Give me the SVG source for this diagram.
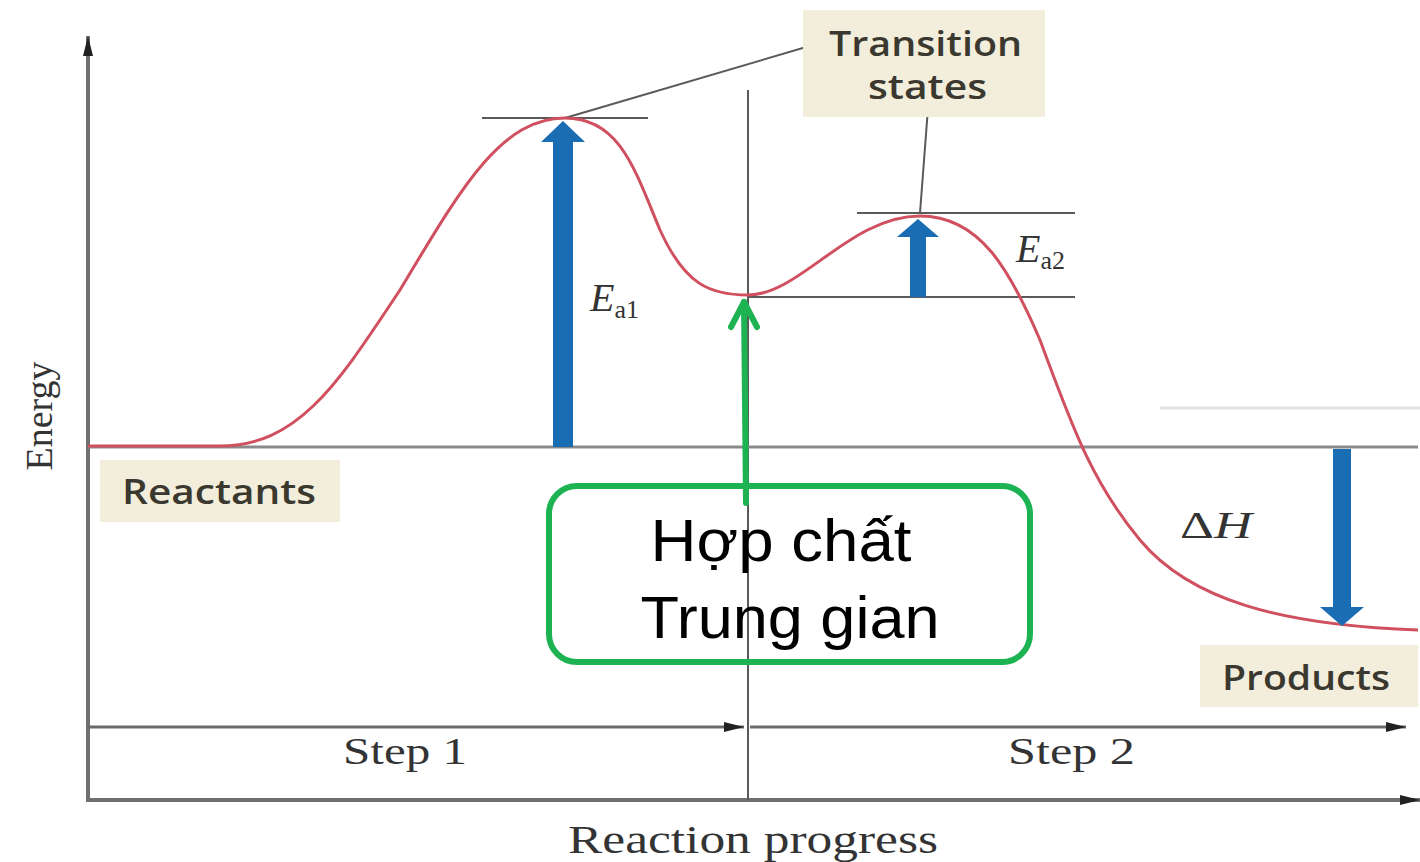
<svg xmlns="http://www.w3.org/2000/svg" width="1420" height="862" viewBox="0 0 1420 862">
  <style>
    .axis { stroke: #707070; stroke-width: 4; fill: none; }
    .thin { stroke: #5a5a5a; stroke-width: 2; fill: none; }
    .step { stroke: #6a6a6a; stroke-width: 3; fill: none; }
    .level { stroke: #8a8a8a; stroke-width: 3; fill: none; }
    .curve { stroke: #d0505f; stroke-width: 3; fill: none; }
    .tag { fill: #f2eedb; }
    .tagtext { font-family: "Open Sans", "Liberation Sans", sans-serif; font-weight: 600; font-size: 35px; fill: #3a382f; }
    .serif { font-family: "Liberation Serif", serif; fill: #333; }
    .ital { font-family: "Liberation Serif", serif; font-style: italic; fill: #333; }
    .blue { fill: #1a6db3; }
    .green { stroke: #1db353; stroke-width: 6; fill: none; stroke-linecap: round; stroke-linejoin: round; }
    .big { font-family: "Liberation Sans", Arial, sans-serif; font-size: 60px; fill: #000; text-anchor: middle; }
  </style>
  <defs>
    <marker id="head" viewBox="0 0 20 10" refX="20" refY="5" markerWidth="20" markerHeight="11" orient="auto" markerUnits="userSpaceOnUse">
      <path d="M0,0 L20,5 L0,10 z" fill="#222"/>
    </marker>
  </defs>
  <rect width="1420" height="862" fill="#ffffff"/>

  <!-- axes and guide lines -->
  <g id="axes">
    <line class="axis" x1="88" y1="802" x2="88" y2="36" marker-end="url(#head)"/>
    <line class="axis" x1="86" y1="800" x2="1420" y2="800" marker-end="url(#head)"/>
    <line class="step" x1="88" y1="727" x2="744" y2="727" marker-end="url(#head)"/>
    <line class="step" x1="750" y1="727" x2="1406" y2="727" marker-end="url(#head)"/>
    <line class="thin" x1="748" y1="90" x2="748" y2="800"/>
    <line class="level" x1="88" y1="447" x2="1418" y2="447"/>
    <line stroke="#e2e2e2" stroke-width="3" x1="1160" y1="408" x2="1420" y2="408"/>
    <line class="thin" x1="482" y1="118" x2="648" y2="118"/>
    <line class="thin" x1="857" y1="213" x2="1075" y2="213"/>
    <line class="thin" x1="748" y1="297" x2="1075" y2="297"/>
    <line class="thin" x1="565" y1="118" x2="830" y2="40"/>
    <line class="thin" x1="920" y1="213" x2="928" y2="108"/>
  </g>

  <!-- energy profile -->
  <g id="profile">
    <path class="curve" d="M88,446 L220,446 C300,446 340,380 400,290 C460,190 500,118 565,118 C620,118 635,170 660,230 C685,285 710,295 748,295 C800,295 850,216 920,216 C980,216 1010,270 1040,340 C1070,420 1090,480 1140,540 C1190,600 1280,625 1418,630"/>
  </g>

  <!-- blue energy arrows -->
  <g id="ea1-arrow">
    <path class="blue" d="M553,447 L553,142 L541,142 L563,121 L585,142 L573,142 L573,447 z"/>
  </g>
  <g id="ea2-arrow">
    <path class="blue" d="M910,297 L910,237 L897,237 L918,219 L939,237 L926,237 L926,297 z"/>
  </g>
  <g id="dh-arrow">
    <path class="blue" d="M1333,449 L1333,607 L1320,607 L1342,626 L1364,607 L1351,607 L1351,449 z"/>
  </g>

  <!-- labels -->
  <g id="transition-states">
    <rect class="tag" x="803" y="10" width="242" height="107"/>
    <text class="tagtext" x="829" y="56" textLength="193" lengthAdjust="spacingAndGlyphs">Transition</text>
    <text class="tagtext" x="868" y="99" textLength="119" lengthAdjust="spacingAndGlyphs">states</text>
  </g>
  <g id="reactants">
    <rect class="tag" x="100" y="460" width="240" height="62"/>
    <text class="tagtext" x="122" y="504" textLength="194" lengthAdjust="spacingAndGlyphs">Reactants</text>
  </g>
  <g id="products">
    <rect class="tag" x="1200" y="645" width="218" height="62"/>
    <text class="tagtext" x="1222" y="690" textLength="168" lengthAdjust="spacingAndGlyphs">Products</text>
  </g>
  <g id="ea1-label">
    <text class="ital" x="590" y="311" font-size="40">E<tspan font-style="normal" font-size="26" dy="7">a1</tspan></text>
  </g>
  <g id="ea2-label">
    <text class="ital" x="1016" y="262" font-size="40">E<tspan font-style="normal" font-size="26" dy="7">a2</tspan></text>
  </g>
  <g id="dh-label">
    <text class="serif" x="1180" y="538" font-size="38" textLength="72" lengthAdjust="spacingAndGlyphs">Δ<tspan font-style="italic">H</tspan></text>
  </g>
  <g id="energy-label">
    <text class="serif" font-size="38" text-anchor="middle" transform="translate(52,416) rotate(-90)">Energy</text>
  </g>
  <g id="step1">
    <text class="serif" x="343" y="764" font-size="38" textLength="124" lengthAdjust="spacingAndGlyphs">Step 1</text>
  </g>
  <g id="step2">
    <text class="serif" x="1008" y="764" font-size="38" textLength="127" lengthAdjust="spacingAndGlyphs">Step 2</text>
  </g>
  <g id="x-label">
    <text class="serif" x="568" y="853" font-size="40" textLength="370" lengthAdjust="spacingAndGlyphs">Reaction progress</text>
  </g>

  <!-- intermediate callout -->
  <g id="intermediate">
    <rect class="green" x="549" y="486" width="481" height="176" rx="28"/>
    <text class="big" x="781" y="561" textLength="261" lengthAdjust="spacingAndGlyphs">Hợp chất</text>
    <text class="big" x="790" y="638" textLength="299" lengthAdjust="spacingAndGlyphs">Trung gian</text>
  </g>
  <g id="connectors">
    <path class="green" d="M746,503 L744,302"/>
    <path class="green" d="M731,327 L744,302 L757,327"/>
  </g>
</svg>
